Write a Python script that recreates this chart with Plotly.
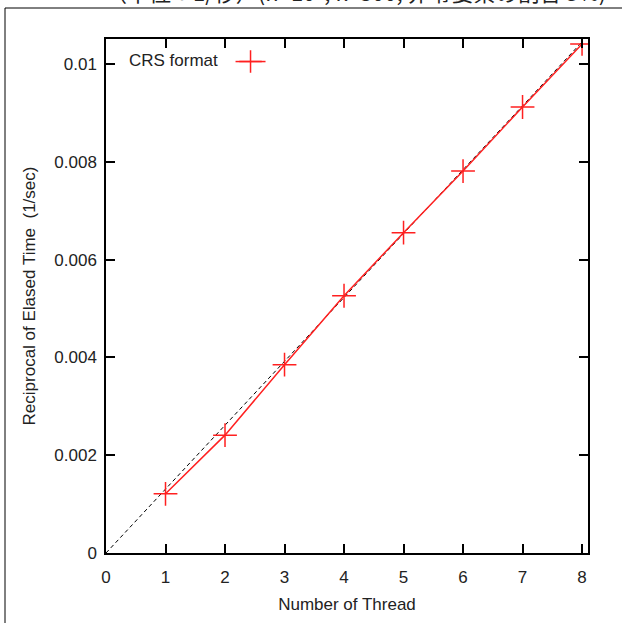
import plotly.graph_objects as go

threads = [1, 2, 3, 4, 5, 6, 7, 8]
reciprocal_time = [0.00121, 0.00241, 0.00385, 0.00526, 0.00655, 0.00781, 0.00912, 0.01041]
ideal_x = [0, 8]
ideal_y = [0, 0.01045]

series_name = "CRS format\u00a0"
x_title = "Number of Thread"
y_title = "Reciprocal of Elased Time  (1/sec)"
caption = "（単位：1/秒）(n=10⁴, k=300, 非零要素の割合 5%)"

W, H = 622, 623
ML, MR, MT, MB = 106, 34, 39, 70
PW, PH = W - ML - MR, H - MT - MB

font = "Liberation Sans, Arial, sans-serif"

fig = go.Figure()
fig.add_trace(go.Scatter(
    x=ideal_x, y=ideal_y, mode="lines",
    line=dict(color="black", width=1, dash="4px,3px"),
    showlegend=False, hoverinfo="skip"))
fig.add_trace(go.Scatter(
    x=threads, y=reciprocal_time, mode="lines+markers", name=" ",
    line=dict(color="#ff2020", width=1.5),
    marker=dict(symbol="cross-thin", size=17, line=dict(color="#ff2020", width=1.5)),
    showlegend=True))

def px_x(p):
    return (p - ML) / PW

def px_y(p):
    return (H - MB - p) / PH

axis_common = dict(
    showline=True, linecolor="black", linewidth=1.5, mirror="ticks",
    ticks="inside", ticklen=9, tickwidth=1.5, tickcolor="black",
    showgrid=False, zeroline=False,
    tickfont=dict(family=font, size=17, color="#222222"),
    title_font=dict(family=font, size=17, color="#222222"),
)

fig.update_layout(
    width=W, height=H,
    margin=dict(l=ML, r=MR, t=MT, b=MB, autoexpand=False),
    paper_bgcolor="white", plot_bgcolor="white",
    xaxis=dict(range=[0, 8.1], tick0=0, dtick=1, title=dict(text=x_title, standoff=12),
               ticklabelstandoff=8, automargin=False, **axis_common),
    yaxis=dict(range=[0, 0.01051], tick0=0, dtick=0.002, title=dict(text=y_title, standoff=14),
               ticklabelstandoff=4, automargin=False, **axis_common),
    legend=dict(
        x=px_x(127), y=px_y(44), xanchor="left", yanchor="top",
        bgcolor="rgba(0,0,0,0)", itemwidth=30,
        title=dict(text=series_name, side="left", font=dict(family=font, size=17, color="#222222")),
        font=dict(family=font, size=17),
    ),
    shapes=[dict(type="rect", xref="paper", yref="paper",
                 x0=px_x(5), x1=px_x(640), y0=px_y(640), y1=px_y(8),
                 line=dict(color="black", width=1), fillcolor="rgba(0,0,0,0)", layer="below")],
    annotations=[dict(text=caption, xref="paper", yref="paper",
                      x=px_x(355), y=px_y(9), xanchor="center", yanchor="bottom",
                      showarrow=False,
                      font=dict(family="Noto Sans CJK JP", size=22, color="#222222"))],
)

fig.write_html("out.html", config={"displayModeBar": False},
               post_script="document.body.style.margin='0px';document.body.style.overflow='hidden';")
